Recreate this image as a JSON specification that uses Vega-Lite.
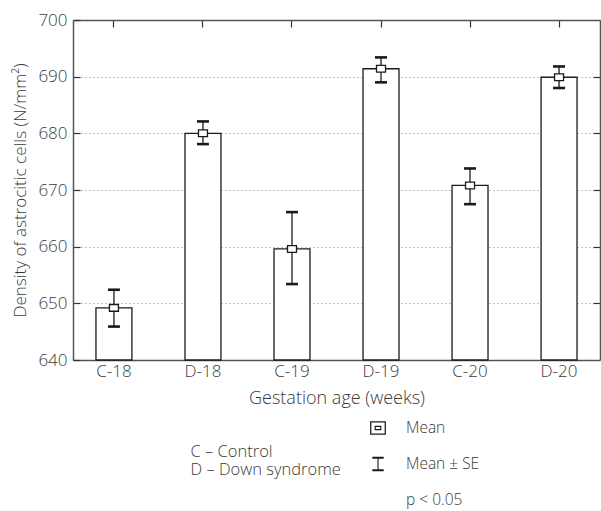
{
  "$schema": "https://vega.github.io/schema/vega-lite/v6.json",
  "width": 527,
  "height": 340,
  "autosize": {"type": "none"},
  "padding": {"left": 73, "top": 20, "right": 1, "bottom": 151},
  "background": "white",
  "data": {"values": [
    {"label": "C-18", "group": "C – Control", "mean": 649.2, "lo": 645.9, "hi": 652.4},
    {"label": "D-18", "group": "D – Down syndrome", "mean": 680.0, "lo": 678.1, "hi": 682.1},
    {"label": "C-19", "group": "C – Control", "mean": 659.6, "lo": 653.4, "hi": 666.1},
    {"label": "D-19", "group": "D – Down syndrome", "mean": 691.4, "lo": 689.0, "hi": 693.4},
    {"label": "C-20", "group": "C – Control", "mean": 670.8, "lo": 667.5, "hi": 673.8},
    {"label": "D-20", "group": "D – Down syndrome", "mean": 689.9, "lo": 688.0, "hi": 691.8}
  ]},
  "layer": [
    {
      "mark": {"type": "bar", "stroke": "#1a1a1a", "strokeWidth": 1.3},
      "encoding": {
        "x": {"field": "label", "type": "nominal", "sort": null,
          "scale": {"paddingInner": 0.596, "paddingOuter": 0.258},
          "axis": {"orient": "bottom", "title": "Gestation age (weeks)", "labelAngle": 0, "tickSize": -7, "labelPadding": 10, "titlePadding": 10, "titleFontSize": 18}},
        "y": {"field": "mean", "type": "quantitative",
          "scale": {"domain": [640, 700], "nice": false, "zero": false},
          "axis": {"orient": "left", "title": "Density of astrocitic cells (N/mm²)", "values": [640, 650, 660, 670, 680, 690, 700], "tickSize": -7, "labelPadding": 13, "titlePadding": 8, "titleFontSize": 17, "grid": true, "gridDash": [1, 3], "gridColor": "#888", "gridWidth": 1}},
        "y2": {"datum": 640},
        "fill": {"field": "group", "type": "nominal",
          "scale": {"domain": ["C – Control", "D – Down syndrome"], "range": ["white", "white"]},
          "legend": {"orient": "none", "legendX": 101, "legendY": 424, "title": null, "symbolSize": 0, "symbolOpacity": 0, "symbolStrokeWidth": 0, "labelOffset": 0, "rowPadding": 1, "padding": 0, "labelFontSize": 16.5}}
      }
    },
    {
      "mark": {"type": "rule", "stroke": "#1a1a1a", "strokeWidth": 1.3},
      "encoding": {
        "x": {"field": "label", "type": "nominal", "sort": null,
          "axis": {"orient": "top", "title": null, "labels": false, "tickSize": -7, "grid": false}},
        "y": {"field": "lo", "type": "quantitative",
          "axis": {"orient": "right", "title": null, "labels": false, "values": [650, 660, 670, 680, 690], "tickSize": -7, "grid": false}},
        "y2": {"field": "hi"}
      }
    },
    {
      "mark": {"type": "tick", "color": "#1a1a1a", "thickness": 2.6, "size": 12, "opacity": 1},
      "encoding": {
        "x": {"field": "label", "type": "nominal", "sort": null, "axis": null},
        "y": {"field": "lo", "type": "quantitative", "axis": null}
      }
    },
    {
      "mark": {"type": "tick", "color": "#1a1a1a", "thickness": 2.6, "size": 12, "opacity": 1},
      "encoding": {
        "x": {"field": "label", "type": "nominal", "sort": null, "axis": null},
        "y": {"field": "hi", "type": "quantitative", "axis": null}
      }
    },
    {
      "mark": {"type": "point", "shape": "M-1,-0.75H1V0.75H-1Z", "size": 81, "filled": true, "fill": "white", "stroke": "#1a1a1a", "strokeWidth": 1.3, "opacity": 1},
      "encoding": {
        "x": {"field": "label", "type": "nominal", "sort": null, "axis": null},
        "y": {"field": "mean", "type": "quantitative", "axis": null}
      }
    },
    {
      "mark": {"type": "point", "opacity": 0, "filled": true, "color": "#1a1a1a"},
      "encoding": {
        "x": {"field": "label", "type": "nominal", "sort": null, "axis": null},
        "y": {"field": "mean", "type": "quantitative", "axis": null},
        "shape": {"datum": "Mean", "type": "nominal",
          "scale": {"domain": ["Mean", "Mean ± SE", "p < 0.05"],
            "range": [
              "M-1,-0.86H1V0.86H-1Z M-0.84,-0.7V0.7H0.84V-0.7Z M-0.43,-0.29H0.43V0.29H-0.43Z M-0.28,-0.14V0.14H0.28V-0.14Z",
              "M-0.72,-0.93H0.72V-0.66H-0.72Z M-0.07,-0.66H0.07V0.66H-0.07Z M-0.72,0.66H0.72V0.93H-0.72Z",
              "M0,0Z"
            ]},
          "legend": {"orient": "none", "legendX": 297, "legendY": 400, "title": null, "symbolSize": 250, "symbolFillColor": "#1a1a1a", "symbolStrokeColor": "transparent", "symbolStrokeWidth": 0, "symbolOpacity": 1, "rowPadding": 19, "labelOffset": 20, "padding": 0, "labelFontSize": 15.5,
            "encode": {"symbols": {"update": {"opacity": {"value": 1}, "fill": {"value": "#1a1a1a"}, "fillOpacity": {"value": 1}, "stroke": {"value": "transparent"}, "strokeWidth": {"value": 0}}}}}
        }
      }
    }
  ],
  "resolve": {"axis": {"x": "independent", "y": "independent"}},
  "config": {
    "view": {"stroke": null},
    "font": "Open Sans",
    "axis": {
      "domainColor": "#555",
      "domainWidth": 1.5,
      "tickColor": "#333",
      "tickWidth": 1.2,
      "labelFont": "Open Sans",
      "labelFontSize": 17,
      "labelFontWeight": 300,
      "labelColor": "#3a3a3a",
      "titleFont": "Open Sans",
      "titleFontSize": 17,
      "titleFontWeight": 300,
      "titleColor": "#3a3a3a"
    },
    "legend": {
      "labelFont": "Open Sans",
      "labelFontSize": 15.5,
      "labelFontWeight": 300,
      "labelColor": "#3a3a3a"
    }
  }
}
